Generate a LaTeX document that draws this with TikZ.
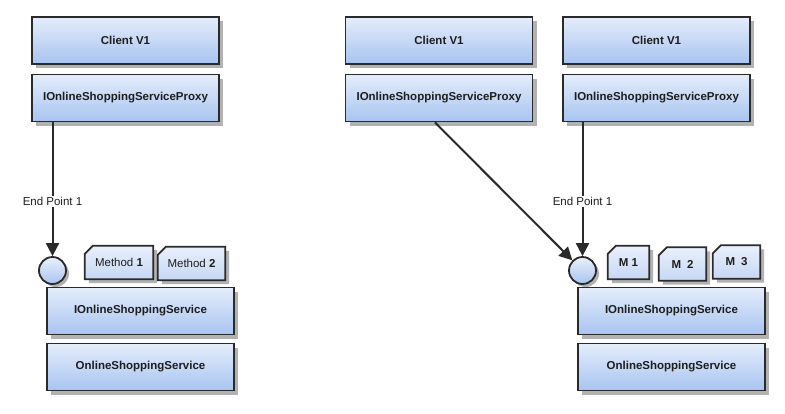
\documentclass[tikz,border=0pt]{standalone}
\usepackage{fontspec}
\setmainfont{Liberation Sans}
\usetikzlibrary{arrows.meta,shadows}
\pgfdeclarelayer{background}
\pgfsetlayers{background,main}
\definecolor{boxtop}{HTML}{E4EDFB}
\definecolor{boxbot}{HTML}{A8C4F0}
\definecolor{mtop}{HTML}{E9F0FC}
\definecolor{mbot}{HTML}{C6D7F4}
\definecolor{edgec}{HTML}{2A2A2A}
\definecolor{shadec}{HTML}{B2B2B2}
\definecolor{txt}{HTML}{1E1E1E}
\tikzset{
  bigbox/.style={rectangle, draw=edgec, line width=1.8pt, top color=boxtop, bottom color=boxbot,
    minimum width=187pt, minimum height=47pt, inner sep=0pt, text=txt,
    font=\fontsize{11.5}{13}\selectfont\bfseries,
    drop shadow={shadow xshift=4pt, shadow yshift=-4pt, fill=shadec, opacity=1}},
  methtext/.style={rectangle, inner sep=0pt, minimum height=33pt, text=txt,
    font=\fontsize{11.5}{13}\selectfont},
  endpt/.style={circle, draw=edgec, line width=1.8pt, top color=mtop, bottom color=boxbot,
    minimum size=27pt, inner sep=0pt,
    drop shadow={shadow xshift=3pt, shadow yshift=-3pt, fill=shadec, opacity=1}},
  conn/.style={draw=edgec, line width=2pt, -{Triangle[length=13pt,width=13pt]}},
  eplabel/.style={fill=white, inner sep=1.5pt, text=txt, font=\fontsize{11.5}{13}\selectfont}
}
\newcommand\methbox[4]{%
  \node[methtext, minimum width=#3] (#1) at (#2) {#4};
  \begin{pgfonlayer}{background}
    \fill[shadec] ([shift={(4pt,-4pt)}]#1.south west) -- ([shift={(4pt,-12pt)}]#1.north west)
      -- ([shift={(12pt,-4pt)}]#1.north west) -- ([shift={(4pt,-4pt)}]#1.north east)
      -- ([shift={(4pt,-4pt)}]#1.south east) -- cycle;
    \path[draw=edgec, line width=1.8pt, top color=mtop, bottom color=mbot, line join=miter]
      (#1.south west) -- ([yshift=-8pt]#1.north west) -- ([xshift=8pt]#1.north west)
      -- (#1.north east) -- (#1.south east) -- cycle;
  \end{pgfonlayer}}
\begin{document}
\begin{tikzpicture}[x=1pt,y=-1pt]
\useasboundingbox (0,0) rectangle (785,413);
% left column
\node[bigbox] (lc1) at (125.5,40.5) {Client V1};
\node[bigbox] (lp) at (125.5,98) {IOnlineShoppingServiceProxy};
\node[endpt] (lcirc) at (52.5,270.5) {};
\node[bigbox] (lis) at (140.5,311) {IOnlineShoppingService};
\node[bigbox] (los) at (140.5,367) {OnlineShoppingService};
\methbox{lm1}{119,262.5}{68pt}{Method \textbf{1}}
\methbox{lm2}{191.5,263.5}{67pt}{Method \textbf{2}}
\draw[conn] (lcirc |- lp.south) -- node[eplabel, pos=0.59] {End Point 1} (lcirc);
% middle column
\node[bigbox] (mc1) at (439,40.5) {Client V1};
\node[bigbox] (mp) at (439,98) {IOnlineShoppingServiceProxy};
% right column
\node[bigbox] (rc1) at (656.5,40.5) {Client V1};
\node[bigbox] (rp) at (656.5,98) {IOnlineShoppingServiceProxy};
\node[endpt] (rcirc) at (582.5,270.5) {};
\node[bigbox] (ris) at (671.5,311) {IOnlineShoppingService};
\node[bigbox] (ros) at (671.5,367) {OnlineShoppingService};
\methbox{rm1}{628.5,262.5}{41pt}{\textbf{M 1}}
\methbox{rm2}{682.5,264}{47pt}{\textbf{M\hspace{6pt}2}}
\methbox{rm3}{736.5,262}{47pt}{\textbf{M\hspace{6pt}3}}
\draw[conn] (rcirc |- rp.south) -- node[eplabel, pos=0.59] {End Point 1} (rcirc);
\draw[conn] ([xshift=-4pt]mp.south) -- (rcirc);
\end{tikzpicture}
\end{document}
